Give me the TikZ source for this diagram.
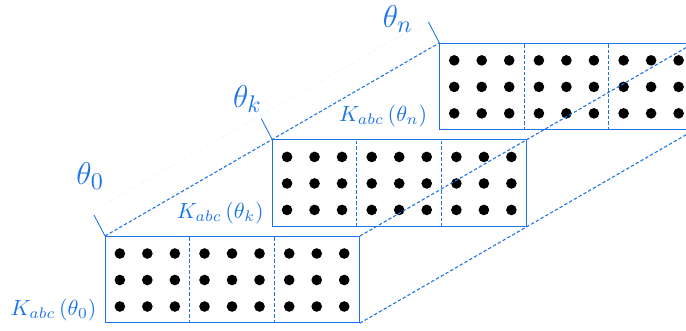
\documentclass[tikz,border=0pt]{standalone}
\usepackage{amsmath, amssymb}
\usepackage{tikz}
\definecolor{kblue}{RGB}{28,116,232}

\begin{document}
\begin{tikzpicture}[
    slab/.style={draw=kblue, anchor=south west, inner sep=0pt,
                 minimum width=4.065cm, minimum height=1.38cm},
    divider/.style={kblue, line width=0.5pt, dash pattern=on 1.5pt off 1pt},
    guide/.style={kblue, line width=0.5pt, dash pattern=on 1.5pt off 1pt},
    tickline/.style={kblue},
    axisline/.style={kblue!35, very thin, densely dotted},
    klabel/.style={kblue, anchor=base east, inner sep=0pt},
    thlabel/.style={kblue, font=\fontsize{15.5}{18}\selectfont, inner sep=0pt},
    dot/.style={black}
  ]
  \useasboundingbox (0,0) rectangle (10.976,5.28);
  \clip (0,0) rectangle (10.976,5.28);

  % slabs with 3 cells of 3x3 points each
  \foreach \name/\px/\py in {b0/1.68/0.11, bk/4.355/1.655, bn/7.03/3.2} {
    \node[slab] (\name) at (\px,\py) {};
    \foreach \c in {1,2}
      \draw[divider] ([xshift=\c*1.355cm]\name.south west) -- ([xshift=\c*1.355cm]\name.north west);
    \foreach \c in {0,1,2}
      \foreach \i in {-1,0,1}
        \foreach \j in {-1,0,1}
          \fill[dot] ([shift={({0.6775+\c*1.355+\i*0.44},{0.69+\j*0.424})}]\name.south west) circle (0.085);
  }

  % edges joining the slabs
  \draw[guide] (b0.north west) -- (bk.north west) -- (bn.north west);
  \draw[guide] (b0.north east) -- (bk.north east) -- (bn.north east);
  \draw[guide] (b0.south east) -- (bk.south east) -- (bn.south east);

  % theta axis
  \coordinate (a0) at (1.6,1.97);
  \coordinate (an) at (6.61,4.82);
  \draw[axisline] (a0) -- (an);
  \draw[tickline] (b0.north west) -- ++(-0.176,0.336) coordinate (t0);
  \draw[tickline] (bk.north west) -- ++(-0.176,0.336) coordinate (tk);
  \draw[tickline] (bn.north west) -- ++(-0.176,0.336) coordinate (tn);
  \node[thlabel] (l0) at ([shift={(-0.06,0.62)}]t0) {$\theta_0$};
  \node[thlabel] (lk) at ([shift={(-0.22,0.31)}]tk) {$\theta_k$};
  \node[thlabel] (ln) at ([shift={(-0.49,0.04)}]tn) {$\theta_n$};

  % kernel labels
  \node[klabel] (k0) at ([shift={(-0.13,0.13)}]b0.south west) {$K_{abc}\left(\theta_0\right)$};
  \node[klabel] (kk) at ([shift={(-0.13,0.13)}]bk.south west) {$K_{abc}\left(\theta_k\right)$};
  \node[klabel] (kn) at ([shift={(-0.19,0.14)}]bn.south west) {$K_{abc}\left(\theta_n\right)$};
\end{tikzpicture}
\end{document}
